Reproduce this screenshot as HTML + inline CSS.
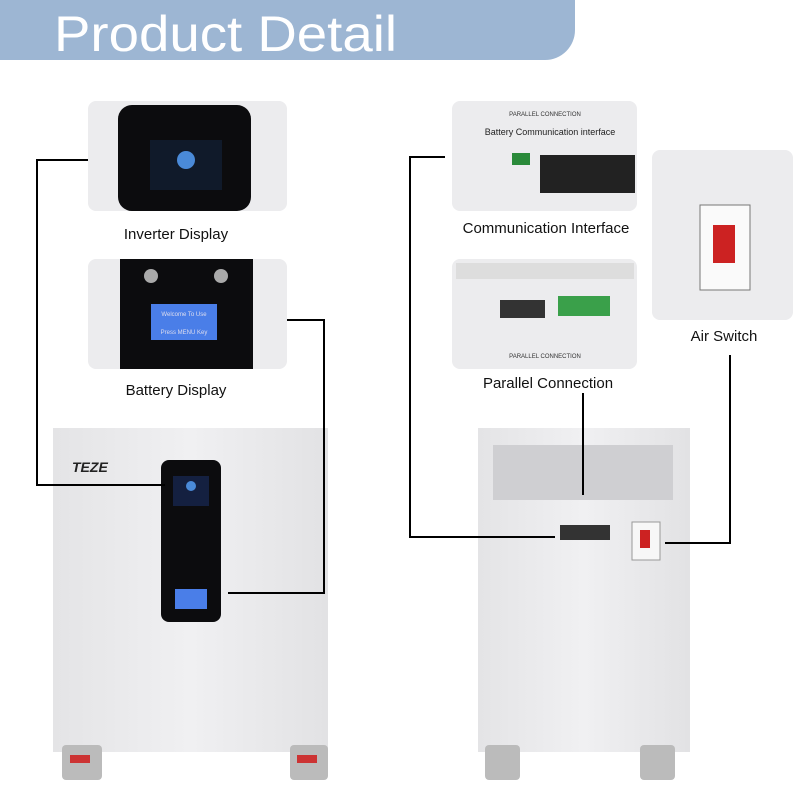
<!DOCTYPE html>
<html><head><meta charset="utf-8"><style>
body{margin:0;width:800px;height:800px;background:#fff;overflow:hidden;font-family:"Liberation Sans",sans-serif}
</style></head><body>
<svg width="800" height="800" viewBox="0 0 800 800" xmlns="http://www.w3.org/2000/svg" font-family="Liberation Sans, sans-serif">
<defs>
<linearGradient id="cab" x1="0" x2="1"><stop offset="0" stop-color="#e4e4e6"/><stop offset="0.5" stop-color="#f0f0f2"/><stop offset="1" stop-color="#e2e2e4"/></linearGradient>
</defs>
<path d="M0 0H575V30A30 30 0 0 1 545 60H0Z" fill="#9db6d3"/>
<text x="54" y="51" font-size="50" fill="#fff" textLength="343" lengthAdjust="spacingAndGlyphs">Product Detail</text>

<!-- left detail boxes -->
<rect x="88" y="101" width="199" height="110" rx="8" fill="#ececee"/>
<rect x="118" y="105" width="133" height="106" rx="14" fill="#0c0c0e"/>
<rect x="150" y="140" width="72" height="50" fill="#101a2a"/>
<circle cx="186" cy="160" r="9" fill="#4a8ad8"/>
<text x="176" y="239" font-size="15" fill="#111" text-anchor="middle">Inverter Display</text>

<rect x="88" y="259" width="199" height="110" rx="8" fill="#ececee"/>
<rect x="120" y="259" width="133" height="110" fill="#0c0c0e"/>
<circle cx="151" cy="276" r="7" fill="#aaa"/><circle cx="221" cy="276" r="7" fill="#aaa"/>
<rect x="151" y="304" width="66" height="36" fill="#4a7ee8"/>
<text x="184" y="316" font-size="6" fill="#dde" text-anchor="middle">Welcome To Use</text>
<text x="184" y="334" font-size="6" fill="#dde" text-anchor="middle">Press MENU Key</text>
<text x="176" y="395" font-size="15" fill="#111" text-anchor="middle">Battery Display</text>

<!-- left cabinet -->
<rect x="53" y="428" width="275" height="324" fill="url(#cab)"/>
<text x="72" y="472" font-size="14" font-weight="bold" font-style="italic" fill="#222">TEZE</text>
<rect x="161" y="460" width="60" height="162" rx="8" fill="#0c0c0e"/>
<rect x="173" y="476" width="36" height="30" fill="#142040"/>
<circle cx="191" cy="486" r="5" fill="#4a8ad8"/>
<rect x="175" y="589" width="32" height="20" fill="#4a7ee8"/>
<rect x="62" y="745" width="40" height="35" rx="4" fill="#bbb"/><rect x="70" y="755" width="20" height="8" fill="#c33"/>
<rect x="290" y="745" width="38" height="35" rx="4" fill="#bbb"/><rect x="297" y="755" width="20" height="8" fill="#c33"/>

<!-- left connectors -->
<polyline points="88,160 37,160 37,485 165,485" fill="none" stroke="#000" stroke-width="2"/>
<polyline points="287,320 324,320 324,593 228,593" fill="none" stroke="#000" stroke-width="2"/>

<!-- right detail boxes -->
<rect x="452" y="101" width="185" height="110" rx="8" fill="#ececee"/>
<text x="545" y="116" font-size="6" fill="#333" text-anchor="middle">PARALLEL CONNECTION</text>
<text x="550" y="135" font-size="9" fill="#222" text-anchor="middle">Battery  Communication interface</text>
<rect x="540" y="155" width="95" height="38" fill="#222"/>
<rect x="512" y="153" width="18" height="12" fill="#2a8a3a"/>
<text x="546" y="233" font-size="15" fill="#111" text-anchor="middle">Communication Interface</text>

<rect x="452" y="259" width="185" height="110" rx="8" fill="#ececee"/>
<rect x="456" y="263" width="178" height="16" fill="#ddd"/>
<rect x="500" y="300" width="45" height="18" fill="#333"/>
<rect x="558" y="296" width="52" height="20" fill="#3aa04a"/>
<text x="545" y="358" font-size="6" fill="#333" text-anchor="middle">PARALLEL CONNECTION</text>
<text x="548" y="388" font-size="15" fill="#111" text-anchor="middle">Parallel Connection</text>

<rect x="652" y="150" width="141" height="170" rx="8" fill="#ececee"/>
<rect x="700" y="205" width="50" height="85" fill="#fafafa" stroke="#777"/>
<rect x="713" y="225" width="22" height="38" fill="#c22"/>
<text x="724" y="341" font-size="15" fill="#111" text-anchor="middle">Air Switch</text>

<!-- right cabinet -->
<rect x="478" y="428" width="212" height="324" fill="url(#cab)"/>
<rect x="493" y="445" width="180" height="55" fill="#cfcfd2"/>
<rect x="560" y="525" width="50" height="15" fill="#333"/>
<rect x="632" y="522" width="28" height="38" fill="#f7f7f7" stroke="#999"/>
<rect x="640" y="530" width="10" height="18" fill="#c22"/>
<rect x="485" y="745" width="35" height="35" rx="4" fill="#bbb"/>
<rect x="640" y="745" width="35" height="35" rx="4" fill="#bbb"/>

<!-- right connectors -->
<polyline points="445,157 410,157 410,537 555,537" fill="none" stroke="#000" stroke-width="2"/>
<line x1="583" y1="393" x2="583" y2="495" stroke="#000" stroke-width="2"/>
<polyline points="730,355 730,543 665,543" fill="none" stroke="#000" stroke-width="2"/>
</svg>
</body></html>
